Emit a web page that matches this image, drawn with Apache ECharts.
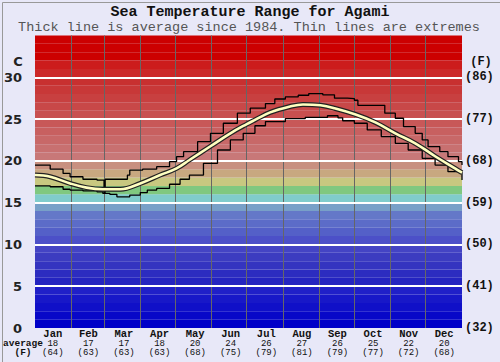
<!DOCTYPE html>
<html>
<head>
<meta charset="utf-8">
<script src="https://cdn.jsdelivr.net/npm/echarts@6/dist/echarts.min.js"></script>
<style>
html,body{margin:0;padding:0;background:#e8e8f8;}
#chart{width:500px;height:362px;}
</style>
</head>
<body>
<div id="chart"></div>
<script>
// ---- data ----
const months = ['Jan','Feb','Mar','Apr','May','Jun','Jul','Aug','Sep','Oct','Nov','Dec'];
const monthAvgC = [18,17,17,18,20,24,26,27,26,25,22,20];
const monthAvgF = [64,63,63,63,68,75,79,81,79,77,72,68];
const monthBoundaries = [31,59,90,120,151,181,212,243,273,304,334];
const celsiusTicks = ['0','5','10','15','20','25','30'];
const fahrenheitTicks = ['(32)','(41)','(50)','(59)','(68)','(77)','(86)'];

const avgDays  = [0,13,30,44,58,73,90,107,121,132,150,167,181,188,201,218,229,244,256,274,291,308,325,342,359,365];
const avgTemps = [18.3,18.1,17.3,16.8,16.6,16.6,17.3,18.3,19.1,20.1,21.75,23.3,24.4,24.9,25.8,26.5,26.75,26.65,26.3,25.55,24.6,23.3,22.1,20.55,19.1,18.6];

const maxDays  = [0,13,24,30,41,53,59,60,79,81,92,104,115,121,127,139,150,161,173,184,197,205,214,225,234,246,256,267,273,276,293,299,308,315,325,331,336,346,353,362,365];
const maxTemps = [19.5,19.0,18.5,18.1,17.8,17.7,16.2,17.8,18.3,18.9,19.0,19.3,19.9,20.5,21.1,22.3,23.3,24.5,25.7,26.3,26.85,27.4,27.65,27.85,28.05,27.9,27.5,27.45,27.25,26.65,26.65,25.7,25.1,24.1,23.3,22.5,21.7,21.1,20.5,19.9,19.5];

const minDays  = [0,13,24,30,41,53,58,64,70,79,81,90,96,104,115,124,132,144,156,167,178,188,197,214,231,250,259,263,273,284,296,308,319,331,342,353,365];
const minTemps = [17.0,16.9,16.6,16.5,16.4,16.3,16.1,16.0,15.7,15.7,15.9,16.2,16.5,16.7,17.2,17.8,18.3,19.7,21.3,22.5,23.3,24.2,24.7,25.05,25.2,25.4,25.15,24.8,24.5,23.7,22.9,22.1,21.3,20.3,19.5,18.7,17.7];

// background band colours, one per degree from 0 to 35 C
const bandColors = [
 '#0000c8','#0808c8','#1010c8','#1818c8','#2020c8',
 '#2424c0','#2c2cc0','#3434c0','#3c3cc0','#4444c4',
 '#4c50c8','#5460c8','#5c6cc8','#6478c8','#78a0c8',
 '#80cccc','#80c880','#c8c880','#c8a880','#c89080',
 '#c87878','#c87070','#c86868','#c86060','#c85858',
 '#c85050','#c84848','#c84040','#c83838','#c83030',
 '#cc2828','#cc1c1c','#cc0000','#cc0000','#cc0000'
];

const zip = (a,b) => a.map((d,i)=>[d,b[i]]);

const chart = echarts.init(document.getElementById('chart'), null, {renderer:'svg'});

const bandAreas = bandColors.map((c,i)=>[
  {yAxis:i, itemStyle:{color:c}}, {yAxis:i+1}
]);
const hLines = [5,10,15,20,25,30].map(v=>({yAxis:v, lineStyle:{color:'#ffffff',width:2,type:'solid'}}));
const vLines = monthBoundaries.map(d=>({xAxis:d, lineStyle:{color:'#666666',width:1,type:'solid'}}));

const mono = 'Liberation Mono, Courier New, monospace';

chart.setOption({
  backgroundColor:'#e8e8f8',
  animation:false,
  grid:{left:35,right:38,top:35.5,bottom:34},
  xAxis:[
    {type:'value',min:0,max:365,show:false},
    {type:'category',data:months,position:'bottom',boundaryGap:true,
     axisLine:{show:false},axisTick:{show:false},splitLine:{show:false},
     axisLabel:{interval:0,margin:1,
       formatter:(v,i)=>'{m|'+v+'}\n{n|'+monthAvgC[i]+'}\n{n|('+monthAvgF[i]+')}',
       rich:{
         m:{fontFamily:mono,fontWeight:'bold',fontSize:10.5,color:'#111',lineHeight:10},
         n:{fontFamily:mono,fontSize:9,color:'#111',lineHeight:9.5}
       }}
    }
  ],
  yAxis:[
    {type:'value',min:0,max:35,interval:5,position:'left',
     axisLine:{show:false},axisTick:{show:false},splitLine:{show:false},
     axisLabel:{margin:13,fontFamily:'DejaVu Sans',fontWeight:'bold',fontSize:13,color:'#222',
       formatter:v=>celsiusTicks[v/5]||''}},
    {type:'value',min:0,max:35,interval:5,position:'right',
     axisLine:{show:false},axisTick:{show:false},splitLine:{show:false},
     axisLabel:{margin:3,fontFamily:mono,fontWeight:'bold',fontSize:12,color:'#111',
       formatter:v=>fahrenheitTicks[v/5]||''}}
  ],
  graphic:[
    {type:'rect',left:0,top:0,shape:{width:499,height:361},style:{fill:'none',stroke:'#999',lineWidth:1},silent:true,z:-1},
    {type:'text',x:250,y:12,style:{text:'Sea Temperature Range for Agami',font:'bold 15px '+mono,fill:'#111',textAlign:'center',textVerticalAlign:'middle'}},
    {type:'text',x:249,y:27,style:{text:'Thick line is average since 1984. Thin lines are extremes',font:'13.5px '+mono,fill:'#555',textAlign:'center',textVerticalAlign:'middle'}},
    {type:'text',x:18,y:61,style:{text:'C',font:'bold 13px DejaVu Sans',fill:'#222',textAlign:'center',textVerticalAlign:'middle'}},
    {type:'text',x:481,y:62,style:{text:'(F)',font:'bold 12px '+mono,fill:'#111',textAlign:'center',textVerticalAlign:'middle'}},
    {type:'text',x:23,y:343,style:{text:'average',font:'bold 9.5px '+mono,fill:'#111',textAlign:'center',textVerticalAlign:'middle'}},
    {type:'text',x:23,y:352.5,style:{text:'(F)',font:'bold 9.5px '+mono,fill:'#111',textAlign:'center',textVerticalAlign:'middle'}}
  ],
  series:[
    {type:'line',xAxisIndex:0,yAxisIndex:0,data:[],z:1,silent:true,
     markArea:{silent:true,itemStyle:{borderWidth:0,opacity:1},data:bandAreas}},
    {type:'line',xAxisIndex:0,yAxisIndex:0,data:[],z:2,silent:true,
     markLine:{silent:true,symbol:'none',label:{show:false},animation:false,data:vLines.concat(hLines)}},
    {type:'line',name:'max',xAxisIndex:0,yAxisIndex:0,data:zip(maxDays,maxTemps),step:'end',
     showSymbol:false,symbol:'none',lineStyle:{color:'#000',width:1.3},z:5},
    {type:'line',name:'min',xAxisIndex:0,yAxisIndex:0,data:zip(minDays,minTemps),step:'end',
     showSymbol:false,symbol:'none',lineStyle:{color:'#000',width:1.3},z:5},
    {type:'line',name:'avgOutline',xAxisIndex:0,yAxisIndex:0,data:zip(avgDays,avgTemps),smooth:0.4,
     showSymbol:false,symbol:'none',lineStyle:{color:'#222',width:5},z:6},
    {type:'line',name:'avg',xAxisIndex:0,yAxisIndex:0,data:zip(avgDays,avgTemps),smooth:0.4,
     showSymbol:false,symbol:'none',lineStyle:{color:'#ffffc0',width:2.6},z:7}
  ]
});
</script>
</body>
</html>
